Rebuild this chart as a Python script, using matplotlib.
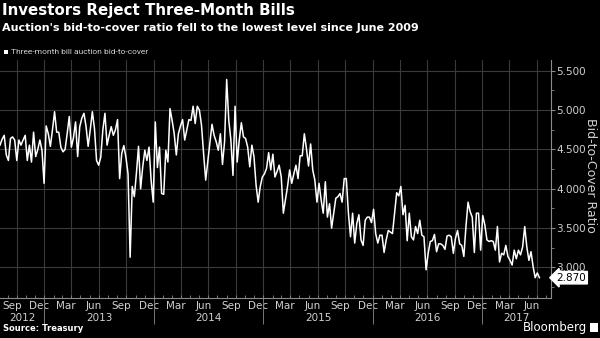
import matplotlib
matplotlib.use('Agg')
import matplotlib.pyplot as plt
import matplotlib.dates as mdates
from matplotlib.ticker import MultipleLocator, FixedLocator, FuncFormatter
from matplotlib.patches import Rectangle
import numpy as np
import pandas as pd

# weekly three-month bill auction bid-to-cover ratios
ratio_2012 = [4.555, 4.63, 4.68, 4.43, 4.36, 4.64, 4.66, 4.62, 4.36, 4.62, 4.555,
              4.62, 4.68, 4.36, 4.555, 4.34, 4.72, 4.41, 4.50, 4.62, 4.49, 4.07]
ratio_2013 = [4.80, 4.70, 4.54, 4.75, 4.98, 4.72, 4.72, 4.53, 4.47, 4.50, 4.70, 4.92, 4.53,
              4.65, 4.85, 4.41, 4.79, 4.90, 4.96, 4.79, 4.54, 4.75, 4.98, 4.77, 4.36, 4.30,
              4.40, 4.75, 4.96, 4.555, 4.68, 4.79, 4.68, 4.75, 4.88, 4.13, 4.45, 4.55, 4.40,
              4.19, 3.13, 4.03, 3.90, 4.20, 4.54, 4.00, 4.28, 4.49, 4.36, 4.53, 4.11, 3.83]
ratio_2014 = [4.85, 4.27, 4.53, 3.94, 3.93, 4.49, 4.34, 5.02, 4.87, 4.70, 4.43, 4.70, 4.80,
              4.88, 4.62, 4.75, 4.88, 4.87, 5.05, 4.83, 5.05, 5.00, 4.81, 4.45, 4.11, 4.35,
              4.60, 4.82, 4.68, 4.60, 4.49, 4.70, 4.31, 4.60, 5.39, 4.87, 4.62, 4.17, 5.05,
              4.34, 4.62, 4.84, 4.66, 4.64, 4.53, 4.28, 4.555, 4.41, 4.05, 3.83, 4.03, 4.15]
ratio_2015 = [4.19, 4.26, 4.46, 4.24, 4.44, 4.15, 4.22, 4.30, 4.15, 3.69, 3.86, 4.03, 4.24,
              4.07, 4.19, 4.30, 4.13, 4.42, 4.42, 4.70, 4.51, 4.29, 4.57, 4.24, 4.11, 3.83,
              4.07, 3.86, 3.69, 4.09, 3.64, 3.81, 3.50, 3.69, 3.88, 3.90, 3.94, 3.83, 4.13,
              4.13, 3.69, 3.39, 3.69, 3.31, 3.56, 3.67, 3.35, 3.28, 3.60, 3.64, 3.64, 3.57]
ratio_2016 = [3.74, 3.43, 3.31, 3.41, 3.41, 3.19, 3.35, 3.47, 3.45, 3.43, 3.69, 3.95, 3.91,
              4.03, 3.67, 3.79, 3.34, 3.69, 3.39, 3.35, 3.52, 3.43, 3.60, 3.41, 3.39, 2.97,
              3.18, 3.33, 3.34, 3.42, 3.20, 3.30, 3.30, 3.28, 3.23, 3.40, 3.41, 3.39, 3.18,
              3.37, 3.47, 3.30, 3.28, 3.14, 3.52, 3.83, 3.71, 3.64, 3.19, 3.69, 3.69, 3.22]
ratio_2017 = [3.66, 3.54, 3.35, 3.33, 3.34, 3.33, 3.22, 3.52, 3.07, 3.18, 3.16, 3.28, 3.14,
              3.09, 3.03, 3.22, 3.11, 3.22, 3.16, 3.26, 3.52, 3.26, 3.09, 3.20, 3.01, 2.87,
              2.93, 2.87]

ratio = np.concatenate([ratio_2012, ratio_2013, ratio_2014, ratio_2015, ratio_2016, ratio_2017])
dates = pd.date_range('2012-08-06', periods=len(ratio), freq='7D')

y_ticks = [3.0, 3.5, 4.0, 4.5, 5.0, 5.5]
years = [2012, 2013, 2014, 2015, 2016, 2017]
x_start = pd.Timestamp('2012-08-06')
x_end = pd.Timestamp('2017-08-17')

GRID = '#3a3a3a'
AXC = '#8a8a8a'
TXT = '#d0d0d0'

fig = plt.figure(figsize=(6, 3.38), dpi=100, facecolor='black')
ax = fig.add_axes([0, 0.118, 0.918, 0.705])
ax.set_facecolor('black')

ax.plot(dates, ratio, color='white', lw=1.1, zorder=3)
ax.set_xlim(x_start, x_end)
ax.set_ylim(2.61, 5.64)

# x axis: gridlines at quarter starts, labels mid-month
q_starts = pd.date_range('2012-10-01', '2017-07-01', freq='QS-JAN')
lab_pos = pd.date_range('2012-09-01', '2017-06-01', freq='QS-MAR') + pd.Timedelta(days=14)
ax.xaxis.set_major_locator(FixedLocator(mdates.date2num(q_starts)))
ax.xaxis.set_major_formatter(FuncFormatter(lambda v, p: ''))
ax.xaxis.set_minor_locator(FixedLocator(mdates.date2num(lab_pos)))
ax.xaxis.set_minor_formatter(FuncFormatter(lambda v, p: mdates.num2date(v).strftime('%b')))
ax.tick_params(axis='x', which='both', length=0, colors=TXT, labelsize=7.5, pad=2)

# small monthly ticks along the bottom
m_starts = mdates.date2num(pd.date_range('2012-09-01', '2017-08-01', freq='MS'))
ax.vlines(m_starts, 0, 0.014, transform=ax.get_xaxis_transform(), color=AXC, lw=0.6)

# year labels and separators
for yr in years:
    a = max(pd.Timestamp(f'{yr}-01-01'), x_start)
    b = min(pd.Timestamp(f'{yr + 1}-01-01'), x_end)
    ax.text(mdates.date2num(a + (b - a) / 2), -0.082, str(yr), transform=ax.get_xaxis_transform(),
            ha='center', va='center', color=TXT, fontsize=7.5)
    if yr > 2012:
        ax.vlines(mdates.date2num(pd.Timestamp(f'{yr}-01-01')), -0.11, 0,
                  transform=ax.get_xaxis_transform(), color=AXC, lw=0.6, clip_on=False)

# y axis on the right
ax.yaxis.tick_right()
ax.set_yticks(y_ticks)
ax.yaxis.set_major_formatter(FuncFormatter(lambda v, p: f'{v:.3f}'))
ax.yaxis.set_minor_locator(MultipleLocator(0.25))
ax.tick_params(axis='y', which='major', direction='out', length=3, color=AXC,
               labelcolor=TXT, labelsize=7.5, pad=1)
ax.tick_params(axis='y', which='minor', direction='out', length=2, color=AXC)
fig.text(0.984, 0.48, 'Bid-to-Cover Ratio', rotation=270, color=TXT, fontsize=9,
         ha='center', va='center')

ax.grid(True, which='major', color=GRID, lw=0.8)
for s in ['top', 'left']:
    ax.spines[s].set_visible(False)
for s in ['bottom', 'right']:
    ax.spines[s].set_color(AXC)
    ax.spines[s].set_linewidth(0.8)

# last value marker
ax.annotate(f'{ratio[-1]:.3f}', xy=(1, ratio[-1]), xycoords=('axes fraction', 'data'),
            xytext=(4, 0), textcoords='offset points', ha='left', va='center',
            color='black', fontsize=7.5,
            bbox=dict(boxstyle='larrow,pad=0.12', fc='white', ec='white'))

# titles and legend
fig.text(0.003, 0.99, 'Investors Reject Three-Month Bills', color='white',
         fontsize=10.8, fontweight='bold', ha='left', va='top')
fig.text(0.003, 0.933, "Auction's bid-to-cover ratio fell to the lowest level since June 2009",
         color='white', fontsize=8, fontweight='bold', ha='left', va='top')
fig.patches.append(Rectangle((0.007, 0.84), 0.007, 0.0125, transform=fig.transFigure,
                             fc='white', ec='none'))
fig.text(0.018, 0.846, 'Three-month bill auction bid-to-cover', color=TXT,
         fontsize=6, family='Roboto', ha='left', va='center')

fig.text(0.005, 0.027, 'Source: Treasury', color='white', fontsize=6,
         fontweight='bold', ha='left', va='center')
fig.text(0.978, 0.03, 'Bloomberg', color='white', fontsize=8.5, ha='right', va='center')
fig.patches.append(Rectangle((0.984, 0.018), 0.012, 0.025, transform=fig.transFigure,
                             fc='white', ec='none'))

fig.savefig('out.png', dpi=100, facecolor='black')
